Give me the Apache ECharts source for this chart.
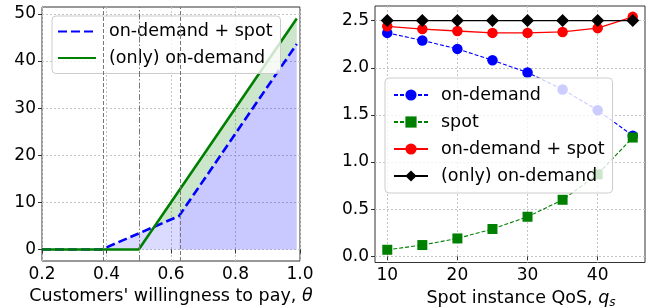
<!DOCTYPE html>
<html>
<head>
<meta charset="utf-8">
<script src="https://cdn.jsdelivr.net/npm/echarts@6/dist/echarts.min.js"></script>
<style>
  html, body { margin: 0; padding: 0; background: #fff; }
  #chart { width: 654px; height: 308px; }
</style>
</head>
<body>
<div id="chart"></div>
<script>
// left panel: profit against customers' willingness to pay
const thetaMixed = [0.2, 0.385, 0.625, 0.99];
const profitMixed = [0, 0, 7.1, 43.6];
const thetaOnly = [0.2, 0.5, 0.99];
const profitOnly = [0, 0, 49];
const thresholds = [0.385, 0.5, 0.625];
const leftXTicks = [0.2, 0.4, 0.6, 0.8, 1.0];
const leftYTicks = [0, 10, 20, 30, 40, 50];

// right panel: revenue against spot QoS
const qos = [10, 15, 20, 25, 30, 35, 40, 45];
const onDemand = [2.37, 2.29, 2.20, 2.08, 1.95, 1.77, 1.55, 1.28];
const spot = [0.07, 0.12, 0.19, 0.29, 0.42, 0.60, 0.87, 1.26];
const mixed = [2.44, 2.41, 2.39, 2.37, 2.37, 2.38, 2.42, 2.54];
const onlyOnDemand = [2.5, 2.5, 2.5, 2.5, 2.5, 2.5, 2.5, 2.5];
const rightXTicks = [10, 20, 30, 40];
const rightYTicks = [0, 0.5, 1.0, 1.5, 2.0, 2.5];

const FONT = 'DejaVu Sans';
const zip = (xs, ys) => xs.map((x, i) => [x, ys[i]]);

// where the dashed curve drops below the solid one
function crossing(ax, ay, bx, by) {
  for (let i = 0; i < ax.length - 1; i++) {
    for (let j = 0; j < bx.length - 1; j++) {
      const x1 = ax[i], y1 = ay[i], x2 = ax[i + 1], y2 = ay[i + 1];
      const x3 = bx[j], y3 = by[j], x4 = bx[j + 1], y4 = by[j + 1];
      const d = (x1 - x2) * (y3 - y4) - (y1 - y2) * (x3 - x4);
      if (Math.abs(d) < 1e-12) continue;
      const t = ((x1 - x3) * (y3 - y4) - (y1 - y3) * (x3 - x4)) / d;
      const u = ((x1 - x3) * (y1 - y2) - (y1 - y3) * (x1 - x2)) / d;
      if (t > 0 && t < 1 && u > 0 && u < 1) return [x1 + t * (x2 - x1), y1 + t * (y2 - y1)];
    }
  }
  return null;
}
const cross = crossing(thetaMixed, profitMixed, thetaOnly, profitOnly);
const gapPoly = [cross]
  .concat(zip(thetaOnly, profitOnly).filter(p => p[0] > cross[0]))
  .concat(zip(thetaMixed, profitMixed).filter(p => p[0] > cross[0]).reverse());

const lightIdx = [1, 2];
const darkIdx = [2, 3];

function axisBase(gridIndex) {
  return {
    gridIndex: gridIndex,
    type: 'value',
    axisLine: { show: false },
    axisTick: { show: true, length: 4, lineStyle: { color: '#333' } },
    axisLabel: { color: '#000', fontFamily: FONT, fontSize: 17, margin: 5 },
    splitLine: { show: true, lineStyle: { color: '#c4c4c4', type: [2, 2], width: 1 } }
  };
}

const xLeft = axisBase(0);
Object.assign(xLeft, { min: 0.2, max: 1.0, name: "Customers' willingness to pay, {i|θ}",
  nameLocation: 'middle', nameGap: 24,
  nameTextStyle: { color: '#000', fontFamily: FONT, fontSize: 17.5,
    rich: { i: { fontFamily: FONT, fontSize: 17.5, fontStyle: 'italic', color: '#000' } } } });
xLeft.axisTick.customValues = leftXTicks;
xLeft.axisLabel.customValues = leftXTicks;
xLeft.axisLabel.formatter = v => v.toFixed(1);

const yLeft = axisBase(0);
Object.assign(yLeft, { min: -2.45, max: 51.45 });
yLeft.axisTick.customValues = leftYTicks;
yLeft.axisLabel.customValues = leftYTicks;
yLeft.axisLabel.margin = 6;

const xRight = axisBase(1);
Object.assign(xRight, { min: 8.25, max: 46.75, name: 'Spot instance QoS, {q|q}{s|s}',
  nameLocation: 'middle', nameGap: 16,
  nameTextStyle: { color: '#000', fontFamily: FONT, fontSize: 17.5, padding: [0, 0, 0, 22],
    rich: {
      q: { fontFamily: FONT, fontSize: 17.5, fontStyle: 'italic', color: '#000' },
      s: { fontFamily: FONT, fontSize: 12, fontStyle: 'italic', color: '#000', padding: [9, 0, 0, 0] }
    } } });
xRight.axisTick.customValues = rightXTicks;
xRight.axisLabel.customValues = rightXTicks;

const yRight = axisBase(1);
Object.assign(yRight, { min: -0.065, max: 2.655 });
yRight.axisTick.customValues = rightYTicks;
yRight.axisLabel.customValues = rightYTicks;
yRight.axisLabel.formatter = v => v.toFixed(1);
yRight.axisLabel.margin = 6;

const legendText = { color: '#000', fontFamily: FONT, fontSize: 17.5, padding: [0, 0, 0, 8] };

const option = {
  animation: false,
  grid: [
    { left: 42, top: 7, width: 258, height: 254, show: true, borderColor: '#333', borderWidth: 1,
      outerBoundsMode: 'none' },
    { left: 375, top: 6, width: 270, height: 256.5, show: true, borderColor: '#333', borderWidth: 1,
      outerBoundsMode: 'none' }
  ],
  xAxis: [xLeft, xRight],
  yAxis: [yLeft, yRight],
  legend: [
    {
      data: ['on-demand + spot', '(only) on-demand'],
      orient: 'vertical', left: 52, top: 16,
      padding: [6.5, 8, 6.5, 5], itemGap: 8.5, itemWidth: 38, itemHeight: 14,
      backgroundColor: 'rgba(255,255,255,0.8)', borderColor: '#cccccc', borderWidth: 1, borderRadius: 4,
      itemStyle: { opacity: 0 },
      textStyle: legendText
    },
    {
      data: ['on-demand', 'spot', 'on-demand + spot ', '(only) on-demand '],
      orient: 'vertical', left: 385, top: 78,
      padding: [8, 8, 8, 8], itemGap: 9, itemWidth: 34, itemHeight: 14,
      backgroundColor: 'rgba(255,255,255,0.8)', borderColor: '#cccccc', borderWidth: 1, borderRadius: 4,
      textStyle: legendText,
      formatter: name => name.trim()
    }
  ],
  series: [
    // shaded areas of the left panel
    {
      type: 'line', xAxisIndex: 0, yAxisIndex: 0, symbol: 'none', silent: true,
      lineStyle: { opacity: 0 }, areaStyle: { color: 'rgba(0,0,255,0.2)' },
      data: lightIdx.map(i => [thetaMixed[i], profitMixed[i]])
    },
    {
      type: 'line', xAxisIndex: 0, yAxisIndex: 0, symbol: 'none', silent: true,
      lineStyle: { opacity: 0 }, areaStyle: { color: 'rgba(0,0,255,0.3)' },
      data: darkIdx.map(i => [thetaMixed[i], profitMixed[i]])
    },
    {
      type: 'custom', xAxisIndex: 0, yAxisIndex: 0, silent: true,
      data: [0],
      renderItem: (params, api) => ({
        type: 'polygon',
        shape: { points: gapPoly.map(p => api.coord(p)) },
        style: { fill: 'rgba(0,128,0,0.2)' }
      })
    },
    {
      type: 'line', xAxisIndex: 0, yAxisIndex: 0, symbol: 'none', silent: true,
      data: [],
      markLine: {
        symbol: 'none', silent: true, label: { show: false },
        data: thresholds.map((t, i) => ({
          xAxis: t,
          lineStyle: { color: '#777', width: 1, type: i === 1 ? [6, 2, 1.5, 2] : [4, 2] }
        }))
      }
    },
    {
      name: 'on-demand + spot', type: 'line', xAxisIndex: 0, yAxisIndex: 0, symbol: 'none',
      color: '#0000ff', lineStyle: { color: '#0000ff', width: 2.6, type: [9, 4] },
      data: zip(thetaMixed, profitMixed)
    },
    {
      name: '(only) on-demand', type: 'line', xAxisIndex: 0, yAxisIndex: 0, symbol: 'none',
      color: '#008000', lineStyle: { color: '#008000', width: 2.6 },
      data: zip(thetaOnly, profitOnly)
    },
    // right panel
    {
      name: 'on-demand', type: 'line', xAxisIndex: 1, yAxisIndex: 1,
      symbol: 'circle', symbolSize: 10.5, color: '#0000ff',
      lineStyle: { color: '#0000ff', width: 1.1, type: [4, 2] },
      data: zip(qos, onDemand)
    },
    {
      name: 'spot', type: 'line', xAxisIndex: 1, yAxisIndex: 1,
      symbol: 'rect', symbolSize: 10, color: '#008000',
      lineStyle: { color: '#008000', width: 1.1, type: [4, 2] },
      data: zip(qos, spot)
    },
    {
      name: 'on-demand + spot ', type: 'line', xAxisIndex: 1, yAxisIndex: 1,
      symbol: 'circle', symbolSize: 10.5, color: '#ff0000',
      lineStyle: { color: '#ff0000', width: 1.3 },
      data: zip(qos, mixed)
    },
    {
      name: '(only) on-demand ', type: 'line', xAxisIndex: 1, yAxisIndex: 1,
      symbol: 'diamond', symbolSize: 13, color: '#000000',
      lineStyle: { color: '#000000', width: 1.3 },
      data: zip(qos, onlyOnDemand)
    }
  ]
};

const chart = echarts.init(document.getElementById('chart'), null, { renderer: 'canvas' });
chart.setOption(option);
</script>
</body>
</html>
